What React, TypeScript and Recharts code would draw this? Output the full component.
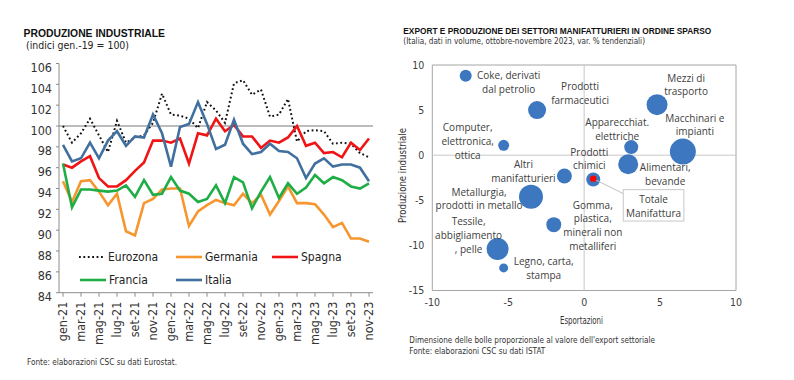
import React from "react";
import {
  LineChart,
  Line,
  XAxis,
  YAxis,
  ReferenceLine,
  ReferenceArea,
  ScatterChart,
  Scatter,
  ZAxis,
} from "recharts";

const narrow = "'Liberation Sans Narrow', 'Arial Narrow', 'DejaVu Sans Condensed', sans-serif";
const sans = "'Liberation Sans', Arial, sans-serif";
const labelFont = "'Open Sans', sans-serif";

// --- Produzione industriale (indici gen-19 = 100)
const mesi = [
  "gen-21", "feb-21", "mar-21", "apr-21", "mag-21", "giu-21", "lug-21", "ago-21", "set-21", "ott-21", "nov-21", "dic-21",
  "gen-22", "feb-22", "mar-22", "apr-22", "mag-22", "giu-22", "lug-22", "ago-22", "set-22", "ott-22", "nov-22", "dic-22",
  "gen-23", "feb-23", "mar-23", "apr-23", "mag-23", "giu-23", "lug-23", "ago-23", "set-23", "ott-23", "nov-23",
];
const eurozona = [100.0, 98.4, 99.3, 100.7, 99.1, 97.5, 100.5, 98.4, 98.9, 99.1, 100.3, 103.1, 101.1, 101.0, 100.7, 99.8, 102.3, 101.5, 100.3, 104.1, 104.4, 103.0, 103.5, 100.9, 101.1, 102.6, 98.5, 99.5, 99.6, 99.5, 98.3, 98.4, 98.3, 97.4, 97.0];
const germania = [94.7, 92.7, 94.7, 94.8, 93.7, 92.4, 93.5, 89.9, 89.5, 92.6, 93.0, 93.9, 94.0, 94.0, 90.4, 91.8, 92.4, 92.9, 92.6, 92.4, 93.5, 92.6, 93.4, 91.5, 92.8, 94.2, 92.6, 92.6, 92.5, 91.5, 90.3, 90.7, 89.2, 89.2, 88.9];
const spagna = [96.3, 96.0, 96.6, 97.1, 95.0, 94.2, 94.2, 94.8, 95.7, 96.5, 98.6, 98.6, 98.4, 98.8, 96.4, 99.3, 99.1, 100.7, 99.5, 100.1, 99.0, 99.0, 97.9, 98.6, 98.4, 98.9, 100.0, 98.1, 98.4, 97.4, 97.5, 97.0, 98.4, 97.7, 98.8];
const francia = [96.4, 92.2, 93.9, 93.9, 93.8, 93.7, 93.8, 94.3, 93.2, 94.8, 93.4, 93.5, 95.1, 93.8, 93.5, 92.7, 93.0, 94.3, 92.6, 95.1, 94.6, 92.1, 93.7, 95.1, 93.1, 94.5, 93.5, 94.1, 95.3, 94.5, 95.1, 94.8, 94.2, 94.0, 94.5];
const italia = [98.2, 96.6, 96.9, 98.4, 96.9, 98.6, 99.5, 98.1, 99.0, 98.9, 101.1, 99.3, 96.1, 99.9, 100.2, 102.3, 100.2, 97.8, 98.2, 100.6, 98.3, 97.3, 97.5, 98.3, 97.6, 97.5, 96.9, 95.0, 96.4, 96.9, 96.1, 96.3, 96.3, 96.0, 94.7];
const yTicks = [84, 86, 88, 90, 92, 94, 96, 98, 100, 102, 104, 106];

// --- Export e produzione dei settori (var. % tendenziali)
const settori = [
  "Coke, derivati\ndal petrolio",
  "Prodotti\nfarmaceutici",
  "Computer,\nelettronica,\nottica",
  "Altri\nmanifatturieri",
  "Metallurgia,\nprodotti in metallo",
  "Tessile,\nabbigliamento\n, pelle",
  "Legno, carta,\nstampa",
  "Gomma,\nplastica,\nminerali non\nmetalliferi",
  "Mezzi di\ntrasporto",
  "Macchinari e\nimpianti",
  "Apparecchiat.\nelettriche",
  "Prodotti\nchimici",
  "Alimentari,\nbevande",
];
const esportazioni = [-7.8, -3.1, -5.3, -1.3, -3.5, -5.7, -5.3, -2.0, 4.8, 6.5, 3.1, 0.6, 2.9];
const produzione = [8.8, 5.0, 1.1, -2.3, -4.6, -10.4, -12.5, -7.7, 5.6, 0.4, 0.9, -2.7, -1.0];
const pesoExport = [36, 81, 30, 56, 144, 121, 20, 56, 110, 169, 49, 49, 100];
const totaleNome = "Totale\nManifattura";
const totaleExport = 0.6;
const totaleProduzione = -2.6;
const xTicksBolle = [-10, -5, 0, 5, 10];
const yTicksBolle = [-15, -10, -5, 0, 5, 10];

const serie = [
  { key: "Eurozona", values: eurozona, color: "#111111", dash: "1.8 2.6" },
  { key: "Germania", values: germania, color: "#f7962e" },
  { key: "Spagna", values: spagna, color: "#f01414" },
  { key: "Francia", values: francia, color: "#1fad45" },
  { key: "Italia", values: italia, color: "#41709f" },
];

const righe = mesi.map((mese, i) => {
  const r: Record<string, number | string> = { mese };
  serie.forEach((s) => (r[s.key] = s.values[i]));
  return r;
});

const bolle = settori.map((nome, i) => ({
  nome,
  x: esportazioni[i],
  y: produzione[i],
  z: pesoExport[i],
}));
const totale = [{ nome: totaleNome, x: totaleExport, y: totaleProduzione, z: 0 }];

// label placement around each bubble (px)
const posEtichette: Record<string, { dx: number; dy: number }> = {
  "Coke, derivati\ndal petrolio": { dx: 43, dy: -1 },
  "Prodotti\nfarmaceutici": { dx: 43, dy: -24 },
  "Computer,\nelettronica,\nottica": { dx: -36, dy: -18 },
  "Altri\nmanifatturieri": { dx: -41, dy: -12 },
  "Metallurgia,\nprodotti in metallo": { dx: -52, dy: -5 },
  "Tessile,\nabbigliamento\n, pelle": { dx: -29, dy: -28 },
  "Legno, carta,\nstampa": { dx: 40, dy: -7 },
  "Gomma,\nplastica,\nminerali non\nmetalliferi": { dx: 39, dy: -20 },
  "Mezzi di\ntrasporto": { dx: 29, dy: -27 },
  "Macchinari e\nimpianti": { dx: 12, dy: -34 },
  "Apparecchiat.\nelettriche": { dx: -14, dy: -25 },
  "Prodotti\nchimici": { dx: -4, dy: -28 },
  "Alimentari,\nbevande": { dx: 37, dy: 3 },
};

const legenda = [
  { key: "Eurozona", x: 79, y: 257 },
  { key: "Germania", x: 176, y: 257 },
  { key: "Spagna", x: 272, y: 257 },
  { key: "Francia", x: 80, y: 280 },
  { key: "Italia", x: 176, y: 280 },
];

const MeseTick = (props: any) => {
  const { x, y, payload } = props;
  const yy = y + 3;
  return (
    <text
      x={x}
      y={yy}
      transform={`rotate(-90 ${x} ${yy})`}
      textAnchor="end"
      dominantBaseline="central"
      fontSize={12.5}
      fontFamily={narrow}
      fill="#333"
    >
      {payload.value}
    </text>
  );
};

const ValTick = (props: any) => {
  const { x, y, payload } = props;
  return (
    <text x={x - 2} y={y + 4} textAnchor="end" dominantBaseline="central" fontSize={12.5} fontFamily={narrow} fill="#333">
      {payload.value}
    </text>
  );
};

const EtichettaBolla = (props: any) => {
  const { cx, cy, payload } = props;
  const pos = posEtichette[payload.nome] || { dx: 0, dy: 0 };
  const linee = String(payload.nome).split("\n");
  return (
    <g>
      {linee.map((l, k) => (
        <text
          key={k}
          x={cx + pos.dx}
          y={cy + pos.dy + k * 13.8}
          textAnchor="middle"
          dominantBaseline="central"
          fontSize={10}
          fontFamily={labelFont}
          fill="#404040"
        >
          {l}
        </text>
      ))}
    </g>
  );
};

const TotaleMarker = (props: any) => {
  const { cx, cy, payload } = props;
  const linee = String(payload.nome).split("\n");
  return (
    <g>
      <line x1={cx} y1={cy} x2={cx + 30} y2={cy + 15} stroke="#bfbfbf" />
      <rect x={cx + 30} y={cy + 11} width={60.6} height={31.4} fill="#fff" stroke="#c8c8c8" />
      {linee.map((l, k) => (
        <text
          key={k}
          x={cx + 60.3}
          y={cy + 20 + k * 14}
          textAnchor="middle"
          dominantBaseline="central"
          fontSize={10}
          fontFamily={labelFont}
          fill="#404040"
        >
          {l}
        </text>
      ))}
      <circle cx={cx} cy={cy} r={3.2} fill="#ff0000" />
    </g>
  );
};

function ProduzioneChart() {
  return (
    <div style={{ position: "absolute", left: 0, top: 0 }}>
      <LineChart width={400} height={380} data={righe} margin={{ top: 63.5, right: 27, bottom: 37.3, left: 0 }}>
        <XAxis
          dataKey="mese"
          interval={1}
          padding={{ left: 4, right: 4 }}
          height={50}
          tick={<MeseTick />}
          tickSize={4}
          tickLine={{ stroke: "#8c8c8c" }}
          axisLine={{ stroke: "#8c8c8c" }}
        />
        <XAxis xAxisId="top" dataKey="mese" orientation="top" height={0} tick={false} tickLine={false} axisLine={{ stroke: "#c0c0c0" }} />
        <YAxis
          domain={[84, 106]}
          ticks={yTicks}
          interval={0}
          width={59}
          tick={<ValTick />}
          tickSize={3}
          tickLine={{ stroke: "#8c8c8c" }}
          axisLine={{ stroke: "#8c8c8c" }}
        />
        <YAxis yAxisId="right" orientation="right" width={0} tick={false} tickLine={false} axisLine={{ stroke: "#c0c0c0" }} />
        <ReferenceLine y={100} stroke="#a6a6a6" strokeWidth={1.5} />
        {serie.map((s) => (
          <Line
            key={s.key}
            dataKey={s.key}
            type="linear"
            stroke={s.color}
            strokeWidth={s.dash ? 2 : 2.6}
            strokeDasharray={s.dash}
            dot={false}
            isAnimationActive={false}
          />
        ))}
      </LineChart>
    </div>
  );
}

function SettoriChart() {
  const tickStyle = { fontSize: 10.5, fontFamily: narrow, fill: "#404040" };
  return (
    <div style={{ position: "absolute", left: 390, top: 0 }}>
      <ScatterChart width={404} height={380} margin={{ top: 65, right: 58, bottom: 64.5, left: 0 }}>
        <XAxis type="number" dataKey="x" domain={[-10, 10]} ticks={xTicksBolle} interval={0} height={25} axisLine={false} tickLine={false} tick={tickStyle} />
        <YAxis type="number" dataKey="y" domain={[-15, 10]} ticks={yTicksBolle} interval={0} width={42.3} axisLine={false} tickLine={false} tick={tickStyle} />
        <ZAxis type="number" dataKey="z" domain={[0, 169]} range={[0, 531]} />
        <ReferenceLine x={0} stroke="#c8c8c8" />
        <ReferenceLine y={0} stroke="#c8c8c8" />
        <ReferenceArea x1={-10} x2={10} y1={-15} y2={10} fill="none" stroke="#a6a6a6" />
        <Scatter data={bolle} fill="#3c77c0" isAnimationActive={false} />
        <Scatter data={bolle} shape={<EtichettaBolla />} isAnimationActive={false} />
        <Scatter data={totale} shape={<TotaleMarker />} isAnimationActive={false} />
      </ScatterChart>
    </div>
  );
}

function Testi() {
  return (
    <svg width={794} height={380} style={{ position: "absolute", left: 0, top: 0, pointerEvents: "none" }}>
      <text x={23.5} y={37.3} fontSize={10.5} fontWeight="bold" fontFamily={sans} textLength={141.5} lengthAdjust="spacingAndGlyphs" fill="#111">
        PRODUZIONE INDUSTRIALE
      </text>
      <text x={26} y={49} fontSize={11} fontFamily={narrow} textLength={103} lengthAdjust="spacingAndGlyphs" fill="#222">
        (indici gen.-19 = 100)
      </text>
      <text x={27} y={364.5} fontSize={9.5} fontFamily={narrow} textLength={150} lengthAdjust="spacingAndGlyphs" fill="#333">
        Fonte: elaborazioni CSC su dati Eurostat.
      </text>
      {legenda.map((l) => {
        const s = serie.find((q) => q.key === l.key)!;
        return (
          <g key={l.key}>
            <line
              x1={l.x}
              y1={l.y}
              x2={l.x + 26}
              y2={l.y}
              stroke={s.color}
              strokeWidth={s.dash ? 2 : 2.6}
              strokeDasharray={s.dash}
            />
            <text x={l.x + 29} y={l.y} dominantBaseline="central" fontSize={12} fontFamily={narrow} fill="#222">
              {l.key}
            </text>
          </g>
        );
      })}

      <text x={403.3} y={34} fontSize={9.5} fontWeight="bold" fontFamily={sans} textLength={308} lengthAdjust="spacingAndGlyphs" fill="#111">
        EXPORT E PRODUZIONE DEI SETTORI MANIFATTURIERI IN ORDINE SPARSO
      </text>
      <text x={403.3} y={44} fontSize={9.5} fontFamily={narrow} textLength={241.7} lengthAdjust="spacingAndGlyphs" fill="#333">
        (Italia, dati in volume, ottobre-novembre 2023, var. % tendenziali)
      </text>
      <text
        x={402.7}
        y={175.5}
        transform="rotate(-90 402.7 175.5)"
        textAnchor="middle"
        dominantBaseline="central"
        fontSize={10}
        fontFamily={narrow}
        textLength={95}
        lengthAdjust="spacingAndGlyphs"
        fill="#333"
      >
        Produzione industriale
      </text>
      <text x={581.5} y={324} textAnchor="middle" fontSize={10} fontFamily={narrow} textLength={43} lengthAdjust="spacingAndGlyphs" fill="#333">
        Esportazioni
      </text>
      <text x={409.3} y={343} fontSize={9.5} fontFamily={narrow} textLength={245.7} lengthAdjust="spacingAndGlyphs" fill="#333">
        Dimensione delle bolle proporzionale al valore dell'export settoriale
      </text>
      <text x={409.3} y={354} fontSize={9.5} fontFamily={narrow} textLength={136} lengthAdjust="spacingAndGlyphs" fill="#333">
        Fonte: elaborazioni CSC su dati ISTAT
      </text>
    </svg>
  );
}

export default function App() {
  return (
    <div style={{ position: "absolute", left: 0, top: 0, width: 794, height: 380, background: "#fff", overflow: "hidden" }}>
      <ProduzioneChart />
      <SettoriChart />
      <Testi />
    </div>
  );
}
